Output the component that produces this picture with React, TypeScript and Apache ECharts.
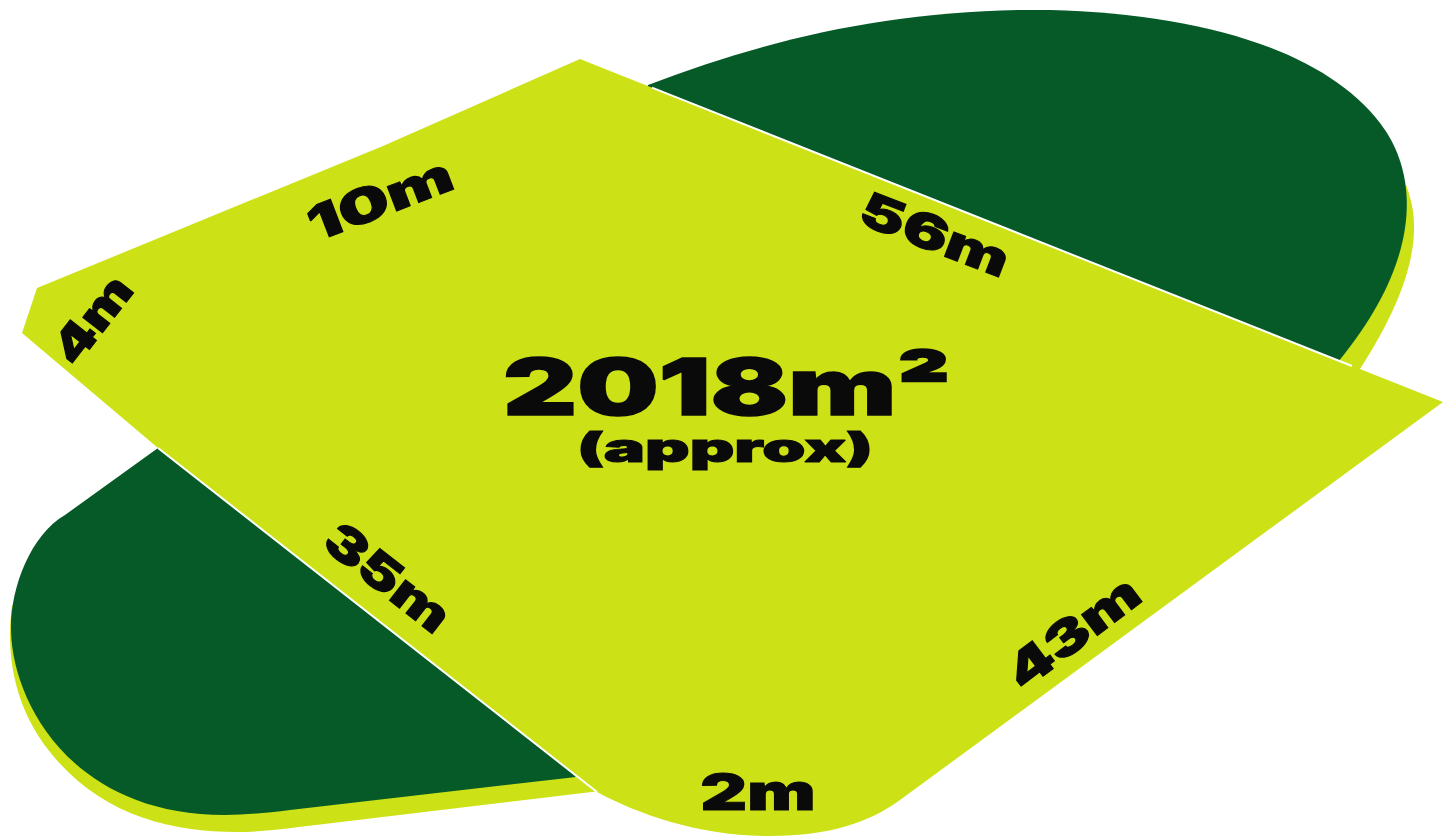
import React, { useEffect, useRef } from "react";
import * as echarts from "echarts";

// Texts of the land plan
const areaLabel = "2018m²";
const areaNote = "(approx)";
const sideLabels = ["10m", "4m", "56m", "35m", "43m", "2m"];

const LIME = "#cde117";
const DARK = "#055a27";
const INK = "#0a0a0a";
const FONT = "Inter";

const upperDarkPath =
  "M 648 85 C 770 38 900 8 1050 10 C 1200 14 1330 50 1385 130 C 1412 170 1430 250 1338 362 L 1300 400 L 640 120 Z";
const upperShadePath =
  "M 1406 185 C 1422 225 1418 280 1358 372 L 1300 380 L 1340 200 Z";
const lowerDarkPath =
  "M 158 448 L 65 515 C 30 535 10 590 11 630 C 12 700 70 815 225 815 C 245 815 265 813 290 810 L 576 777 L 300 500 Z";
const lowerShadePath =
  "M 12 605 C 6 650 12 705 50 752 C 100 815 170 832 237 832 C 265 832 290 828 316 825 L 600 791 L 500 700 L 100 620 Z";
const lotPath =
  "M 580 59 L 1443 402 L 900 800 C 870 822 830 836 770 836 C 700 836 640 815 597 792 L 158 448 L 22 333 L 37 288 L 383 146 Z";

echarts.graphic.registerShape("upperDark", echarts.graphic.extendPath(upperDarkPath, {}));
echarts.graphic.registerShape("upperShade", echarts.graphic.extendPath(upperShadePath, {}));
echarts.graphic.registerShape("lowerDark", echarts.graphic.extendPath(lowerDarkPath, {}));
echarts.graphic.registerShape("lowerShade", echarts.graphic.extendPath(lowerShadePath, {}));
echarts.graphic.registerShape("lot", echarts.graphic.extendPath(lotPath, {}));

const deg = (a: number) => (a * Math.PI) / 180;

function label(text: string, x: number, y: number, size: number, sx: number, angle: number, stroke = 0) {
  return {
    type: "text",
    x,
    y,
    rotation: deg(angle),
    scaleX: sx,
    style: {
      text,
      fill: INK,
      stroke: stroke ? INK : undefined,
      lineWidth: stroke,
      fontFamily: FONT,
      fontWeight: 900,
      fontSize: size,
      textAlign: "center",
      textVerticalAlign: "middle",
    },
  };
}

const sidePlacement: [number, number, number, number, number][] = [
  [380, 199, 48, 1.5, 21],
  [92, 319, 46, 1.3, 52],
  [935, 234, 48, 1.42, -21],
  [388, 577, 48, 1.33, -38],
  [1073, 632, 48, 1.38, 37],
  [758, 792, 50, 1.45, 0],
];

export default function App() {
  const ref = useRef<HTMLDivElement>(null);
  useEffect(() => {
    const chart = echarts.init(ref.current!, undefined, { renderer: "svg" });
    const fill = (type: string, color: string) => ({ type, x: 0, y: 0, style: { fill: color } });
    chart.setOption({
      animation: false,
      backgroundColor: "#ffffff",
      graphic: {
        elements: [
          fill("upperShade", LIME),
          fill("lowerShade", LIME),
          fill("upperDark", DARK),
          fill("lowerDark", DARK),
          fill("lot", LIME),
          { type: "line", shape: { x1: 652, y1: 87.6, x2: 1352, y2: 366 }, style: { stroke: "#ffffff", lineWidth: 2 } },
          { type: "line", shape: { x1: 158, y1: 448, x2: 597, y2: 792 }, style: { stroke: "#ffffff", lineWidth: 2 } },
          label(areaLabel, 727, 387, 78, 1.47, 0, 1.5),
          label(areaNote, 725, 447, 40, 1.73, 0, 1),
          ...sideLabels.map((t, i) => {
            const [x, y, s, sx, a] = sidePlacement[i];
            return label(t, x, y, s, sx, a, 1);
          }),
        ],
      },
    });
    return () => chart.dispose();
  }, []);
  return <div ref={ref} style={{ position: "absolute", left: 0, top: 0, width: 1451, height: 836 }} />;
}
